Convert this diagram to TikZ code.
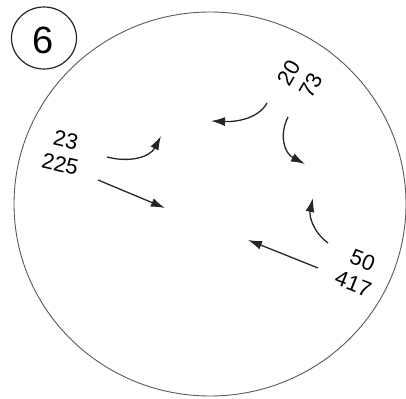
\documentclass[tikz,border=0pt]{standalone}
\usepackage{fontspec}
\setmainfont{Liberation Sans}
\usetikzlibrary{arrows.meta,shapes.geometric}
\begin{document}
\begin{tikzpicture}[x=1pt,y=-1pt,
  lbl/.style={inner sep=0pt,align=center,font=\fontsize{22}{25}\selectfont},
  arr/.style={line width=1.3pt,draw=black!85,-{Latex[length=14pt,width=9pt]}},
  ring/.style={draw=black!65,line width=0.9pt}]
\useasboundingbox (0,0) rectangle (406,398);
\node[ring,ellipse,minimum width=392pt,minimum height=384pt,inner sep=0pt] (big) at (210,204) {};
\node[ring,draw=black!85,line width=1.2pt,ellipse,minimum width=65pt,minimum height=62pt,inner sep=0pt] (six) at (44,38) {};
\node[font=\fontsize{38}{38}\selectfont,inner sep=0pt] (sixt) at (43,40) {6};
\node[lbl,rotate=-13] (t1) at (63,152) {23\\225};
\node[lbl,rotate=60] (t2) at (300,79) {20\\73};
\node[lbl,rotate=-22] (t3) at (358,272) {50\\417};
\coordinate (a1s) at (107,157); \coordinate (a1e) at (161,136);
\coordinate (a2s) at (98,180);  \coordinate (a2e) at (165,208);
\coordinate (a3s) at (267,103); \coordinate (a3e) at (211,121);
\coordinate (a4s) at (288,117); \coordinate (a4e) at (305,164);
\coordinate (a5s) at (328,243); \coordinate (a5e) at (313,198);
\coordinate (a6s) at (318,268); \coordinate (a6e) at (248,240);
\draw[arr] (a1s) .. controls (130,163) and (150,157) .. (a1e);
\draw[arr] (a2s) -- (a2e);
\draw[arr] (a3s) .. controls (258,119) and (236,122) .. (a3e);
\draw[arr] (a4s) .. controls (279,135) and (284,153) .. (a4e);
\draw[arr] (a5s) .. controls (313,232) and (309,216) .. (a5e);
\draw[arr] (a6s) -- (a6e);
\end{tikzpicture}
\end{document}
